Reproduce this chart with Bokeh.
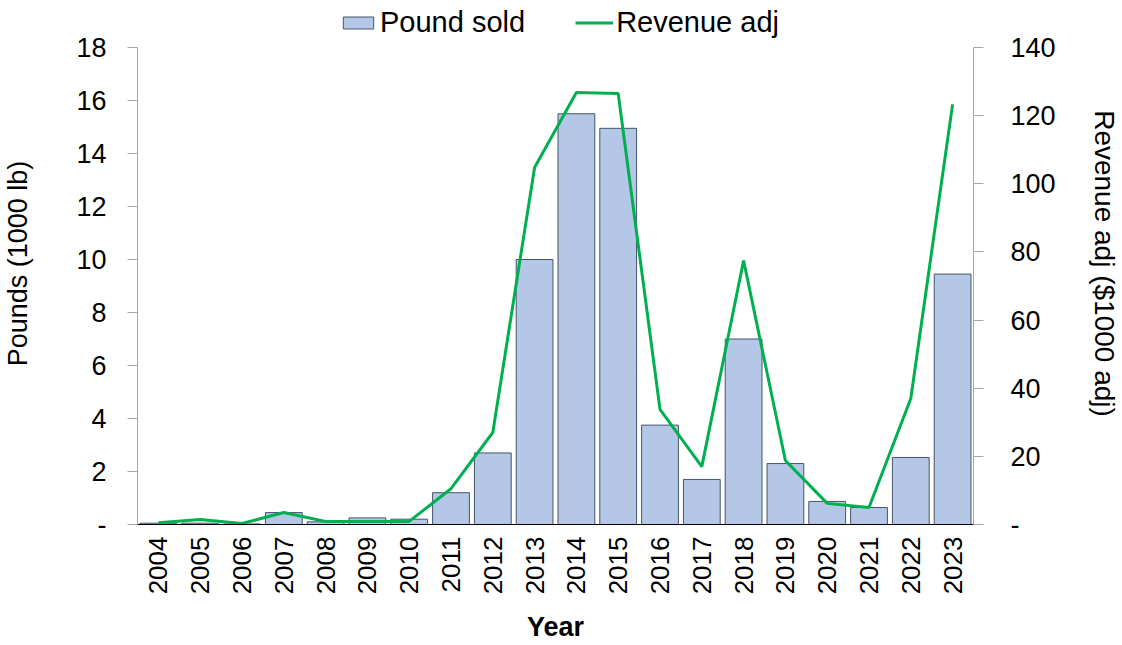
from bokeh.plotting import figure
from bokeh.models import Range1d, LinearAxis, FixedTicker, CustomJSTickFormatter, Legend, LegendItem, ColumnDataSource
from bokeh.embed import file_html
from bokeh.resources import INLINE

years = [str(y) for y in range(2004, 2024)]
pounds = [0.05, 0.05, 0.02, 0.45, 0.1, 0.25, 0.2, 1.2, 2.7, 10.0, 15.5, 14.95, 3.75, 1.7, 7.0, 2.3, 0.87, 0.64, 2.53, 9.45]
revenue = [0.5, 1.5, 0.3, 3.5, 0.9, 0.9, 0.9, 10.5, 27.0, 104.8, 126.8, 126.5, 33.8, 17.0, 77.5, 18.8, 6.2, 5.0, 37.0, 123.3]
left_ticks = [0, 2, 4, 6, 8, 10, 12, 14, 16, 18]
right_ticks = [0, 20, 40, 60, 80, 100, 120, 140]

FONT = "Liberation Sans"
src = ColumnDataSource(dict(year=years, pounds=pounds, revenue=revenue))

# frame extends above the axes' top so the legend can sit there unclipped
EXT = 522.0 / 477.0
p = figure(x_range=years, y_range=Range1d(0, 18 * EXT), width=1122, height=645,
           output_backend="svg", toolbar_location=None,
           min_border_left=136, min_border_right=147, min_border_top=2, min_border_bottom=121)
p.extra_y_ranges = {"rev": Range1d(0, 140 * EXT)}
p.outline_line_color = None
p.xgrid.grid_line_color = None
p.ygrid.grid_line_color = None

bars = p.vbar(x="year", top="pounds", width=0.88, source=src,
              fill_color="#b4c7e7", line_color="#44546a", line_width=1)
line = p.line(x="year", y="revenue", source=src, y_range_name="rev",
              line_color="#00b050", line_width=3)

fmt = CustomJSTickFormatter(code="return tick == 0 ? '-' : tick.toString();")

ly = p.yaxis[0]
ly.ticker = FixedTicker(ticks=left_ticks)
ly.formatter = fmt
ly.axis_label = "Pounds (1000 lb)"
ly.bounds = (0, 18)
ly.major_label_standoff = 21
ly.axis_label_standoff = 40

ry = LinearAxis(y_range_name="rev", ticker=FixedTicker(ticks=right_ticks), formatter=fmt,
                axis_label="Revenue adj ($1000 adj)", bounds=(0, 140))
ry.major_label_standoff = 27
ry.axis_label_standoff = 30
p.add_layout(ry, "right")

for ax in (ly, ry):
    ax.axis_line_color = "#a6a6a6"
    ax.major_tick_line_color = "#a6a6a6"
    ax.major_tick_out = 10
    ax.major_tick_in = 0
    ax.minor_tick_line_color = None
    ax.major_label_text_font = FONT
    ax.major_label_text_font_size = "27px"
    ax.major_label_text_color = "#000000"
    ax.axis_label_text_font = FONT
    ax.axis_label_text_font_size = "27px"
    ax.axis_label_text_font_style = "normal"
    ax.axis_label_text_color = "#000000"
ry.axis_label_text_font_size = "28px"

xa = p.xaxis[0]
xa.axis_label = "Year"
xa.axis_line_color = "#000000"
xa.major_tick_line_color = None
xa.minor_tick_line_color = None
xa.major_label_orientation = 1.5708
xa.major_label_standoff = 6
xa.major_label_text_font = FONT
xa.major_label_text_font_size = "26px"
xa.major_label_text_color = "#000000"
xa.axis_label_text_font = FONT
xa.axis_label_text_font_size = "27px"
xa.axis_label_text_font_style = "bold"
xa.axis_label_text_color = "#000000"
xa.axis_label_standoff = 15

legend = Legend(items=[LegendItem(label="Pound sold", renderers=[bars]),
                       LegendItem(label="Revenue adj", renderers=[line])],
                orientation="horizontal", location=(202, 485),
                label_text_font=FONT, label_text_font_size="29px", label_text_color="#000000",
                border_line_color=None, background_fill_alpha=0,
                spacing=50, glyph_width=38, glyph_height=15, padding=0, margin=0, label_standoff=3)
p.add_layout(legend, "center")

open("out.html", "w").write(file_html(p, INLINE))
